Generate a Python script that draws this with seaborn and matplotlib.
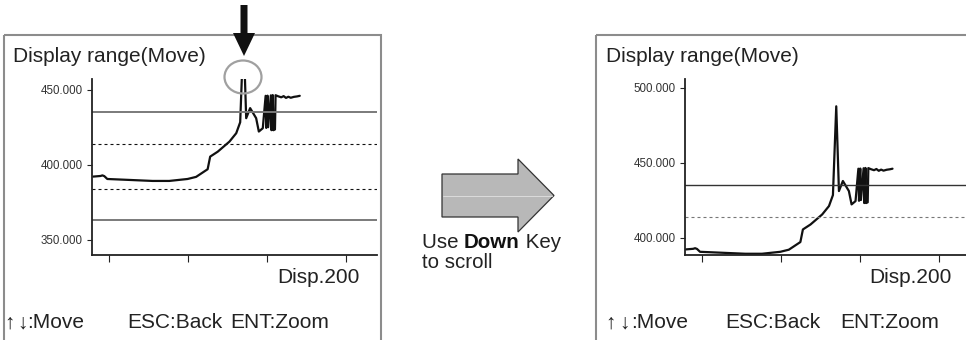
import numpy as np
import pandas as pd
import matplotlib.pyplot as plt
import seaborn as sns
from matplotlib.patches import Rectangle, Polygon, Ellipse

# measured trace (same data on both screens, right one is scrolled down)
x_pos = [0.0, 4.6, 5.8, 7.0, 8.9, 20.0, 37.5, 48.1, 59.7, 65.1, 72.4, 74.0,
         78.8, 86.2, 90.5, 93.0, 95.1, 96.8, 99.3, 103.1, 104.8, 107.3,
         109.1, 109.5, 110.3, 110.7, 112.4, 112.8, 113.6, 114.0, 115.0, 115.4,
         117.0, 119.0, 120.5, 122.0, 123.5, 125.0, 127.0, 129.0, 130.7]
level = [392.1, 392.5, 392.9, 392.4, 390.5, 390.0, 389.2, 389.2, 390.5, 391.9,
         397.0, 405.4, 408.7, 415.4, 421.0, 428.3, 487.5, 431.0, 437.7, 431.0,
         422.1, 424.3, 445.9, 424.5, 446.0, 425.0, 446.2, 423.0, 446.4, 423.0,
         423.5, 446.3, 445.6, 444.9, 445.7, 444.5, 445.3, 444.6, 445.2, 445.5,
         445.9]

upper_limit = 435
upper_warn = 414
lower_warn = 384
lower_limit = 363

xticks = [10, 60, 110, 160]
yticks_left = [350, 400, 450]
yticks_right = [400, 450, 500]
ylim_left = (340.2, 457.1)
ylim_right = (388.7, 505.7)

title = "Display range(Move)"
disp_label = "Disp.200"

df = pd.DataFrame({"pos": x_pos, "value": level})

sns.set_theme(style="white")
plt.rcParams['font.family'] = ['Liberation Sans', 'DejaVu Sans']

W, H = 966, 340
fig = plt.figure(figsize=(W / 100, H / 100), dpi=100)


def px_axes(x0, x1, ytop, ybot, **kw):
    return fig.add_axes([x0 / W, (H - ybot) / H, (x1 - x0) / W, (ybot - ytop) / H], **kw)


ax_l = px_axes(92.3, 376.7, 79, 254.5)
ax_r = px_axes(685, 966, 79, 254.5)

for ax, ylim, yt, xmax in [(ax_l, ylim_left, yticks_left, 179.4),
                           (ax_r, ylim_right, yticks_right, 177.2)]:
    sns.lineplot(data=df, x="pos", y="value", ax=ax, color="#111111", lw=1.6,
                 estimator=None, sort=False)
    ax.set_xlim(-0.6, xmax)
    ax.set_ylim(*ylim)
    ax.set_xticks(xticks)
    ax.set_xticklabels([])
    ax.set_yticks(yt)
    ax.set_yticklabels([f"{v:.3f}" for v in yt], fontsize=8.3, color="#333333")
    ax.set_xlabel("")
    ax.set_ylabel("")
    ax.set_facecolor("none")
    sns.despine(ax=ax)
    for s in ["left", "bottom"]:
        ax.spines[s].set_color("#222222")
        ax.spines[s].set_linewidth(1.3)
    ax.tick_params(axis="y", direction="out", length=3.6, width=0.8, pad=3.3,
                   color="#222222", left=True)
    ax.tick_params(axis="x", direction="out", length=5, width=0.8,
                   color="#222222", bottom=True)

# limit lines
ax_l.axhline(upper_limit, color="#7a7a7a", lw=1.4)
ax_l.axhline(lower_limit, color="#7a7a7a", lw=1.4)
ax_l.axhline(upper_warn, color="#111111", lw=0.8, ls=(0, (2.7, 2.7)))
ax_l.axhline(lower_warn, color="#111111", lw=0.8, ls=(0, (2.7, 2.7)))
ax_r.axhline(upper_limit, color="#333333", lw=1.0)
ax_r.axhline(upper_warn, color="#777777", lw=0.8, ls=(0, (2.7, 2.7)))

# overlay in pixel coords for frames, arrows and screen text
ov = fig.add_axes([0, 0, 1, 1], zorder=5)
ov.set_xlim(0, W)
ov.set_ylim(H, 0)
ov.axis("off")
ov.patch.set_alpha(0)

ov.add_patch(Rectangle((3.5, 35), 377, 320, fill=False, ec="#8c8c8c", lw=1.5))
ov.add_patch(Rectangle((596, 35), 400, 320, fill=False, ec="#8c8c8c", lw=1.5))

# black pointer arrow + gray circle
ov.add_patch(Polygon([(240.5, 5), (247.5, 5), (247.5, 33), (255, 33), (244, 56),
                      (233, 33), (240.5, 33)], closed=True, fc="#111111", ec="none"))
ov.add_patch(Ellipse((243, 77), 37, 33, fill=False, ec="#a0a0a0", lw=1.6))

# big gray arrow
ov.add_patch(Polygon([(442, 174), (518, 174), (518, 159), (554, 195.5), (518, 232),
                      (518, 217), (442, 217)], closed=True, fc="#b8b8b8",
                     ec="#333333", lw=0.9))
ov.plot([443, 552], [196, 196], color="#dcdcdc", lw=0.7)

fs = 15
for x0 in [13, 606]:
    ov.text(x0, 61.7, title, fontsize=fs, va="baseline", ha="left", color="#222222")
ov.text(360, 283.3, disp_label, fontsize=fs, va="baseline", ha="right", color="#222222")
ov.text(951.7, 283.3, disp_label, fontsize=fs, va="baseline", ha="right", color="#222222")

# bottom key help line, pieces placed where they sit on each screen
bottom = [("\u2191", 4, 605), ("\u2193", 17, 619), (":Move", 27, 631),
          ("ESC:Back", 127, 725.5), ("ENT:Zoom", 230, 840)]
for label, xl, xr in bottom:
    for x0 in (xl, xr):
        ov.text(x0, 328.3, label, fontsize=15, va="baseline", ha="left",
                color="#222222")

fs2 = 14.8
ov.text(421.7, 248, "Use ", fontsize=fs2, va="baseline", ha="left", color="#222222")
t = ov.text(421.7, 248, "Use ", fontsize=fs2, alpha=0)
fig.canvas.draw()
bb = t.get_window_extent()
xb = ov.transData.inverted().transform((bb.x1, 0))[0]
t2 = ov.text(xb, 248, "Down", fontsize=fs2, fontweight="bold", va="baseline",
             ha="left", color="#111111")
fig.canvas.draw()
bb2 = t2.get_window_extent()
xk = ov.transData.inverted().transform((bb2.x1, 0))[0]
ov.text(xk, 248, " Key", fontsize=fs2, va="baseline", ha="left", color="#222222")
ov.text(421.7, 268.5, "to scroll", fontsize=fs2, va="baseline", ha="left", color="#222222")

fig.savefig("out.png", dpi=100)
